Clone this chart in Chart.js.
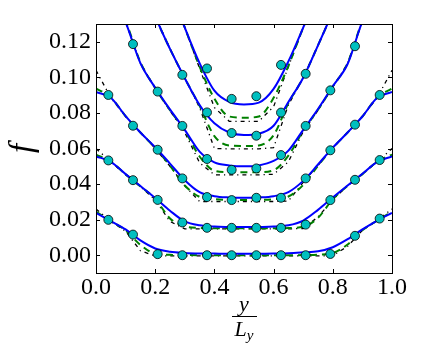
<!DOCTYPE html>
<html><head><meta charset="utf-8">
<script src="https://cdn.jsdelivr.net/npm/chart.js@4"></script>
<style>
html,body{margin:0;padding:0;background:#fff;}
#wrap{position:relative;width:436px;height:351px;}
canvas{position:absolute;left:0;top:0;}
.xt{position:absolute;font-family:'Liberation Serif',serif;font-style:italic;color:#000;white-space:nowrap;}
</style></head><body>
<div id="wrap">
<canvas id="c" width="436" height="351"></canvas>
<div class="xt" style="left:194px;width:100px;top:293px;text-align:center;font-size:22px;line-height:22px;">y</div>
<div style="position:absolute;left:232px;top:316px;width:25px;height:0;border-top:1px solid #000;"></div>
<div class="xt" style="left:194px;width:100px;top:318px;text-align:center;font-size:22px;line-height:22px;">L<span style="font-size:15px;vertical-align:-4px;">y</span></div>
</div>
<script>
// x positions of the profile curves
const xs = [0,0.05,0.1,0.15,0.2,0.25,0.3,0.35,0.4,0.45,0.5,0.55,0.6,0.65,0.7,0.75,0.8,0.85,0.9,0.95,1.0];
// blue solid curves
const B1 = [0.0238,0.0192,0.0145,0.0083,0.0038,0.0020,0.0013,0.0010,0.0009,0.0008,0.0008,0.0008,0.0009,0.0011,0.0016,0.0022,0.0045,0.0090,0.0145,0.0195,0.0238];
const B2 = [0.0556,0.0525,0.0456,0.0389,0.0322,0.0250,0.0190,0.0168,0.0161,0.0159,0.0158,0.0159,0.0161,0.0168,0.0195,0.0255,0.0325,0.0392,0.0458,0.0525,0.0556];
const B3 = [0.0918,0.0885,0.0782,0.0690,0.0607,0.0515,0.0422,0.0355,0.0332,0.0325,0.0323,0.0325,0.0332,0.0355,0.0418,0.0510,0.0605,0.0690,0.0780,0.0885,0.0918];
const B4 = [0.160,0.148,0.131,0.108,0.0942,0.0820,0.0705,0.0582,0.0522,0.0505,0.0500,0.0505,0.0530,0.0588,0.0705,0.0822,0.0950,0.1075,0.1315,0.148,0.160];
const B5 = [0.215,0.200,0.180,0.158,0.1345,0.1160,0.0995,0.0845,0.0742,0.0690,0.0676,0.0683,0.0728,0.0862,0.0998,0.1180,0.1370,0.158,0.180,0.200,0.215];
const B6 = [0.300,0.270,0.240,0.210,0.180,0.150,0.128,0.108,0.0925,0.0862,0.0848,0.0858,0.0935,0.109,0.128,0.148,0.175,0.205,0.235,0.265,0.300];
// green dashed curves
const G1 = [0.0245,0.0192,0.0140,0.0058,0.0008,0.0002,0.0001,0.0000,0.0000,0.0000,0.0000,0.0000,0.0000,0.0000,0.0001,0.0003,0.0012,0.0060,0.0140,0.0195,0.0245];
const G2 = [0.0566,0.0526,0.0455,0.0387,0.0318,0.0207,0.0163,0.0153,0.0151,0.0151,0.0151,0.0151,0.0151,0.0153,0.0160,0.0210,0.0315,0.0390,0.0456,0.0526,0.0566];
const G3 = [0.0937,0.0888,0.0782,0.0690,0.0603,0.0503,0.0392,0.0328,0.0315,0.0311,0.0311,0.0311,0.0315,0.0330,0.0395,0.0503,0.0603,0.0690,0.0780,0.0888,0.0937];
const G4 = [0.162,0.150,0.132,0.1085,0.0940,0.0815,0.0700,0.0555,0.0475,0.0467,0.0467,0.0467,0.0478,0.0560,0.0700,0.0818,0.0948,0.1080,0.1320,0.150,0.162];
const G5 = [0.215,0.200,0.180,0.158,0.1345,0.1160,0.0995,0.0840,0.0670,0.0617,0.0614,0.0617,0.0675,0.0855,0.0998,0.1180,0.1370,0.158,0.180,0.200,0.215];
const G6 = [0.300,0.270,0.240,0.210,0.180,0.150,0.128,0.106,0.0880,0.0780,0.0773,0.0780,0.0885,0.1065,0.128,0.148,0.175,0.205,0.235,0.265,0.300];
// black dash-dot curves
const K1 = [0.0260,0.0190,0.0135,0.0025,-0.0004,-0.0004,-0.0004,-0.0004,-0.0004,-0.0004,-0.0004,-0.0004,-0.0004,-0.0004,-0.0004,-0.0004,-0.0002,0.0050,0.0140,0.0195,0.0260];
const K2 = [0.0600,0.0525,0.0452,0.0386,0.0310,0.0190,0.0148,0.0148,0.0148,0.0148,0.0148,0.0148,0.0148,0.0148,0.0150,0.0215,0.0312,0.0390,0.0455,0.0525,0.0600];
const K3 = [0.1040,0.0885,0.0780,0.0690,0.0600,0.0500,0.0390,0.0302,0.0302,0.0302,0.0302,0.0302,0.0302,0.0305,0.0410,0.0505,0.0603,0.0690,0.0780,0.0885,0.1040];
const K4 = [0.175,0.150,0.131,0.108,0.094,0.0812,0.0690,0.0520,0.0452,0.0452,0.0452,0.0452,0.0455,0.0525,0.0695,0.0815,0.0945,0.1078,0.1315,0.150,0.175];
const K5 = [0.215,0.200,0.180,0.158,0.1345,0.1160,0.0995,0.0830,0.0600,0.0598,0.0598,0.0598,0.0605,0.0845,0.0998,0.1180,0.1370,0.158,0.180,0.200,0.215];
const K6 = [0.300,0.270,0.240,0.210,0.180,0.150,0.128,0.105,0.0830,0.0753,0.0753,0.0753,0.0835,0.1060,0.128,0.148,0.175,0.205,0.235,0.265,0.300];
// cyan markers
const mx = [0.0417,0.125,0.2083,0.2917,0.375,0.4583,0.5417,0.625,0.7083,0.7917,0.875,0.9583];
const M1 = [0.0199,0.0116,0.0006,0.0000,0.0000,0.0000,0.0000,0.0000,0.0000,0.0007,0.0109,0.0206];
const M2 = [0.0533,0.0422,0.0311,0.0184,0.0154,0.0154,0.0154,0.0154,0.0172,0.0310,0.0424,0.0535];
const M3 = [0.0901,0.0728,0.0593,0.0432,0.0327,0.0310,0.0323,0.0323,0.0432,0.0590,0.0734,0.0901];
const M4 = [null,0.1187,0.0920,0.0727,0.0541,0.0480,0.0488,0.0563,0.0727,0.0927,0.1175,null];
const M5 = [null,null,null,0.1014,0.0803,0.0687,0.0672,0.0802,0.1020,null,null,null];
const M6 = [null,null,null,null,0.1050,0.0879,0.0894,0.1070,null,null,null,null];
// ticks
const xTicks = [0.0,0.2,0.4,0.6,0.8,1.0];
const yTicks = [0.00,0.02,0.04,0.06,0.08,0.10,0.12];

const pts = (xa, ya) => xa.map((x,i) => ({x:x, y:ya[i]}));
const datasets = [];
[M1,M2,M3,M4,M5,M6].forEach(m => datasets.push({
  data: pts(mx, m), showLine:false, pointRadius:4.5, pointBackgroundColor:'#00bfbf',
  pointBorderColor:'#000', pointBorderWidth:0.8, clip:0
}));
[B1,B2,B3,B4,B5,B6].forEach(b => datasets.push({
  data: pts(xs, b), showLine:true, borderColor:'#0000ff', borderWidth:2, pointRadius:0,
  cubicInterpolationMode:'monotone', fill:false, clip:0
}));
[G1,G2,G3,G4,G5,G6].forEach(g => datasets.push({
  data: pts(xs, g), showLine:true, borderColor:'#008000', borderWidth:2, borderDash:[7,5], pointRadius:0,
  cubicInterpolationMode:'monotone', fill:false, clip:0
}));
[K1,K2,K3,K4,K5,K6].forEach(k => datasets.push({
  data: pts(xs, k), showLine:true, borderColor:'#000000', borderWidth:1.3, borderDash:[4,4,1.2,4], pointRadius:0,
  tension:0, fill:false, clip:0
}));

const frame = {
  id:'frame',
  afterDraw(chart){
    const {ctx, chartArea:a, scales} = chart;
    ctx.save();
    ctx.strokeStyle = '#000'; ctx.lineWidth = 1;
    ctx.beginPath();
    xTicks.forEach(v => { const p = Math.round(scales.x.getPixelForValue(v)) + 0.5;
      ctx.moveTo(p, a.bottom); ctx.lineTo(p, a.bottom - 4);
      ctx.moveTo(p, a.top); ctx.lineTo(p, a.top + 4); });
    yTicks.forEach(v => { const p = Math.round(scales.y.getPixelForValue(v)) + 0.5;
      ctx.moveTo(a.left, p); ctx.lineTo(a.left + 4, p);
      ctx.moveTo(a.right, p); ctx.lineTo(a.right - 4, p); });
    ctx.stroke();
    ctx.strokeRect(Math.round(a.left)+0.5, Math.round(a.top)+0.5, Math.round(a.right-a.left), Math.round(a.bottom-a.top));
    ctx.restore();
  }
};

new Chart(document.getElementById('c'), {
  type:'scatter',
  data:{datasets},
  options:{
    responsive:false, animation:false, devicePixelRatio:1,
    layout:{padding:{left:0,right:44,top:24,bottom:0}},
    plugins:{legend:{display:false}, tooltip:{enabled:false}},
    scales:{
      x:{type:'linear', min:0, max:1,
        afterBuildTicks: s => { s.ticks = xTicks.map(v => ({value:v})); },
        afterFit: s => { s.height = 78; },
        grid:{display:false, drawTicks:false}, border:{display:false},
        ticks:{font:{family:'Liberation Serif', size:24}, color:'#000', padding:0, maxRotation:0,
          callback: v => Number(v).toFixed(1)}
      },
      y:{type:'linear', min:-0.01, max:0.13,
        afterBuildTicks: s => { s.ticks = yTicks.map(v => ({value:v})); },
        afterFit: s => { s.width = 96; },
        grid:{display:false, drawTicks:false}, border:{display:false},
        ticks:{font:{family:'Liberation Serif', size:24}, color:'#000', padding:5,
          callback: v => Number(v).toFixed(2)},
        title:{display:true, text:'f', color:'#000', padding:{top:4,bottom:0},
          font:{family:'Liberation Serif', size:33, style:'italic'}}
      }
    }
  },
  plugins:[frame]
});
</script>
</body></html>
